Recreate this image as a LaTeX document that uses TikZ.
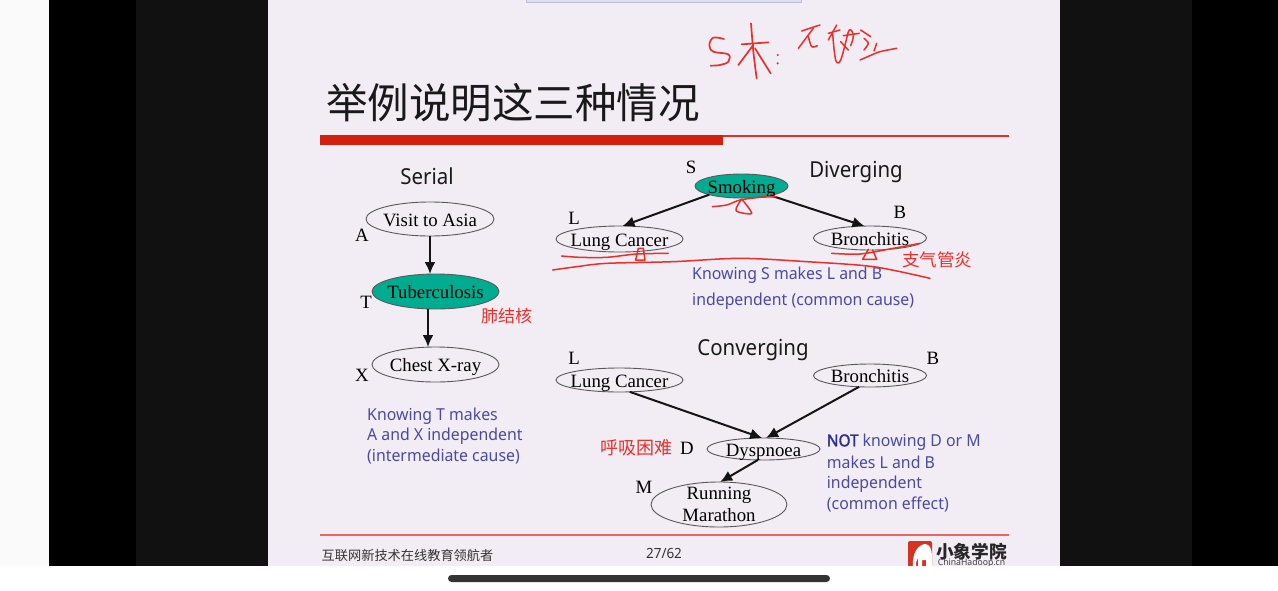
\documentclass[tikz,border=0pt]{standalone}
\usepackage{fontspec}
\setmainfont{Liberation Serif}
\newfontfamily\sansf[FakeStretch=.96]{Noto Sans}
\newfontfamily\sansh[FakeStretch=.93]{Noto Sans}
\newfontfamily\sansb[FakeStretch=.93,FakeBold=2]{Noto Sans}
\newfontfamily\cjk{Noto Sans CJK SC}
\usetikzlibrary{shapes.geometric,arrows.meta}
\definecolor{slidebg}{HTML}{F2ECF5}
\definecolor{tealfill}{HTML}{00AC90}
\definecolor{bandred}{HTML}{D2200F}
\definecolor{slimred}{RGB}{225,50,35}
\definecolor{footred}{RGB}{235,100,95}
\definecolor{inkred}{HTML}{E8302A}
\definecolor{textblue}{HTML}{4B4B9E}
\definecolor{notblue}{HTML}{2F2F8F}
\definecolor{nearblack}{HTML}{111111}
\definecolor{remfill}{HTML}{DDE0F0}
\definecolor{remline}{HTML}{B9BDD8}
\newcommand\lbl[1]{\makebox[0pt]{\raisebox{-.38em}[0pt][0pt]{#1}}}
\newcommand\fsz[1]{\fontsize{#1}{#1}\selectfont}
\tikzset{
  netnode/.style={ellipse,draw=black!65,line width=.9pt,inner sep=0pt,outer sep=0pt,font=\fsz{18.8}},
  tealnode/.style={netnode,fill=tealfill},
  arr/.style={-{Latex[length=12pt,width=11pt]},line width=2pt,black!92},
  letter/.style={font=\fsz{18.8},inner sep=0pt},
  heading/.style={font=\sansh\fsz{22},inner sep=0pt,text=black!90},
  bluetext/.style={font=\sansf\fsz{16.5},text=textblue,inner sep=0pt,anchor=west},
  cjknote/.style={font=\cjk\fsz{15.5},text=inkred,inner sep=0pt},
  ink/.style={draw=inkred,line width=1.5pt,line cap=round,line join=round},
}
\begin{document}
\begin{tikzpicture}[x=1pt,y=-1pt]
\useasboundingbox (0,0) rectangle (1278,590);
% screen background
\fill[white!98!black] (0,0) rectangle (49,590);
\fill[black] (49,0) rectangle (136,590);
\fill[nearblack] (136,0) rectangle (268,590);
\fill[slidebg] (268,0) rectangle (1060,590);
\fill[nearblack] (1060,0) rectangle (1192,590);
\fill[black] (1192,0) rectangle (1278,590);
% remnant on top of the slide
\fill[remfill,draw=remline,line width=.8pt] (526,-2) rectangle (801,2);
% title
\node[font=\cjk\fsz{41.5},inner sep=0pt,text=black!90] (title) at (513,103) {举例说明这三种情况};
\fill[bandred] (320,135) rectangle (723,145);
\fill[slimred] (723,135) rectangle (1009,136.6);
\fill[footred] (320,534.2) rectangle (1009,535.8);
% headings
\node[heading] (serial) at (427,176) {Serial};
\node[heading] (diverging) at (856,172) {Diverging};
\node[heading] (converging) at (753,350) {Converging};
% serial
\node[netnode,minimum width=128pt,minimum height=34pt] (visit) at (430,219) {\lbl{Visit to Asia}};
\node[tealnode,minimum width=127pt,minimum height=35pt] (tb) at (435.5,291.5) {\lbl{Tuberculosis}};
\node[netnode,minimum width=127pt,minimum height=35pt] (xray) at (435.5,364.5) {\lbl{Chest X-ray}};
\draw[arr] (visit.south) -- (visit.south |- tb.north);
\draw[arr] (tb.south -| 428,0) -- (xray.north -| 428,0);
\node[letter] (la) at (362,235) {A};
\node[letter] (lt) at (366,302) {T};
\node[letter] (lx) at (362,375) {X};
\node[cjknote,font=\cjk\fsz{17}] (n1) at (506.5,316) {肺结核};
\node[bluetext] (s1) at (367,416.5) {Knowing T makes};
\node[bluetext] (s2) at (367,436.5) {A and X independent};
\node[bluetext] (s3) at (367,456.5) {(intermediate cause)};
% diverging
\node[tealnode,minimum width=93pt,minimum height=24pt] (smoke) at (741.5,186) {\lbl{Smoking}};
\node[netnode,minimum width=127pt,minimum height=26pt] (lung) at (619.5,239) {\lbl{Lung Cancer}};
\node[netnode,minimum width=113pt,minimum height=24pt] (bron) at (870,238) {\lbl{Bronchitis}};
\draw[arr] (smoke.195) -- (lung.77);
\draw[arr] (smoke.-18) -- (bron.115);
\node[letter] (ls) at (691,167) {S};
\node[letter] (ll) at (574,218) {L};
\node[letter] (lb) at (900,212) {B};
\node[cjknote,font=\cjk\fsz{17.5}] (n2) at (937,260) {支气管炎};
\node[bluetext] (d1) at (692,275) {Knowing S makes L and B};
\node[bluetext] (d2) at (692,301) {independent (common cause)};
% converging
\node[netnode,minimum width=127pt,minimum height=24pt] (lung2) at (619.5,380) {\lbl{Lung Cancer}};
\node[netnode,minimum width=113pt,minimum height=23pt] (bron2) at (870,375.5) {\lbl{Bronchitis}};
\node[netnode,minimum width=113pt,minimum height=22pt] (dysp) at (763.5,449) {\lbl{Dyspnoea}};
\node[netnode,minimum width=136pt,minimum height=45pt] (mara) at (719,504.5) {\makebox[0pt]{\raisebox{-6.5pt}[0pt][0pt]{\begin{tabular}{@{}c@{}}Running\\[3pt]Marathon\end{tabular}}}};
\draw[arr] (lung2.-49) -- (dysp.97);
\draw[arr] (bron2.-134) -- (dysp.77);
\draw[arr] (dysp.-117) -- (mara.87);
\node[letter] (ll2) at (574,358) {L};
\node[letter] (lb2) at (933,358) {B};
\node[letter] (ld) at (687,448) {D};
\node[letter] (lm) at (644,487) {M};
\node[cjknote,font=\cjk\fsz{18}] (n3) at (636,448) {呼吸困难};
\node[bluetext] (c1) at (826.7,442) {{\sansb\color{notblue}NOT} knowing D or M};
\node[bluetext] (c2) at (826.7,462) {makes L and B};
\node[bluetext] (c3) at (826.7,484) {independent};
\node[bluetext] (c4) at (826.7,504.5) {(common effect)};
% footer
\node[font=\cjk\fsz{13.2},inner sep=0pt,text=black!80] (foot) at (407.5,555) {互联网新技术在线教育领航者};
\node[font=\sansf\fsz{14},inner sep=0pt,text=black!80] (page) at (664,553.5) {27/62};
% logo
\fill[bandred!92!white,rounded corners=2pt] (908,541) rectangle (932,570);
\fill[white] (913,566) .. controls (912,553) and (918,545) .. (925,544) .. controls (930,544) and (932,550) .. (932,556) -- (932,566) -- (926,566) -- (926,560) -- (922,560) -- (922,566) -- (918,566) -- (918,558) .. controls (916,560) and (916,563) .. (916,566) -- cycle;
\node[font=\cjk\bfseries\fsz{17.7},inner sep=0pt,text=black!85] (logo) at (971.5,552) {小象学院};
\node[font=\sansf\fsz{9},inner sep=0pt,text=black!75] (logo2) at (971.5,563) {ChinaHadoop.cn};
% bottom of the screen
\fill[white] (0,566) rectangle (1278,590);
\fill[black!80,rounded corners=3.5pt] (448,575) rectangle (830,582);
% handwriting at the top, coordinates on a 3x grid
\begin{scope}[shift={(700,15)},x=.33333pt,y=-.33333pt]
\draw[ink,line width=1.7pt] plot[smooth,tension=.6] coordinates {(72,72) (40,68) (28,90) (40,110) (85,118) (85,140) (60,150) (32,152)};
\draw[ink,line width=1.7pt] plot[smooth] coordinates {(125,88) (165,85) (205,82)};
\draw[ink,line width=1.7pt] plot[smooth] coordinates {(153,25) (160,110) (170,190)};
\draw[ink,line width=1.7pt] (160,90) -- (115,150);
\draw[ink,line width=1.7pt] plot[smooth] coordinates {(165,100) (190,140) (212,175)};
\fill[inkred] (233,120) circle (3.5) (233,145) circle (3.5);
\draw[ink] plot[smooth] coordinates {(305,48) (335,38) (360,30)};
\draw[ink] (340,40) -- (295,100);
\draw[ink] plot[smooth] coordinates {(325,65) (335,95) (352,92)};
\draw[ink] (385,55) -- (420,45);
\draw[ink] (410,30) -- (385,75);
\draw[ink] plot[smooth,tension=.7] coordinates {(398,55) (403,110) (410,142) (422,135) (435,90) (448,45) (460,62) (452,92)};
\draw[ink] (430,62) -- (478,55);
\draw[ink] (422,80) -- (445,105);
\draw[ink] (482,45) -- (512,65);
\draw[ink] plot[smooth] coordinates {(492,70) (505,85) (492,105)};
\draw[ink] (530,85) -- (522,108);
\draw[ink] plot[smooth] coordinates {(480,135) (510,122) (540,110) (590,100)};
\end{scope}
% underlines, coordinates on a 3x grid
\begin{scope}[shift={(540,0)},x=.33333pt,y=-.33333pt]
\draw[ink] plot[smooth] coordinates {(517,620) (560,615) (600,600) (660,592) (710,590)};
\draw[ink] plot[smooth,tension=.5] coordinates {(605,597) (588,632) (635,640) (605,597)};
\draw[ink] plot[smooth] coordinates {(65,768) (120,772) (200,772) (290,762) (385,760)};
\draw[ink] (295,745) -- (287,780) -- (315,780) -- (310,745) -- cycle;
\draw[ink] plot[smooth] coordinates {(38,810) (110,800) (200,790) (400,785) (600,775) (800,785) (1000,800) (1170,835)};
\draw[ink] plot[smooth] coordinates {(875,760) (960,762) (1060,745) (1140,730)};
\draw[ink] (985,748) -- (968,778) -- (1010,778) -- (998,750);
\end{scope}
\end{tikzpicture}
\end{document}
